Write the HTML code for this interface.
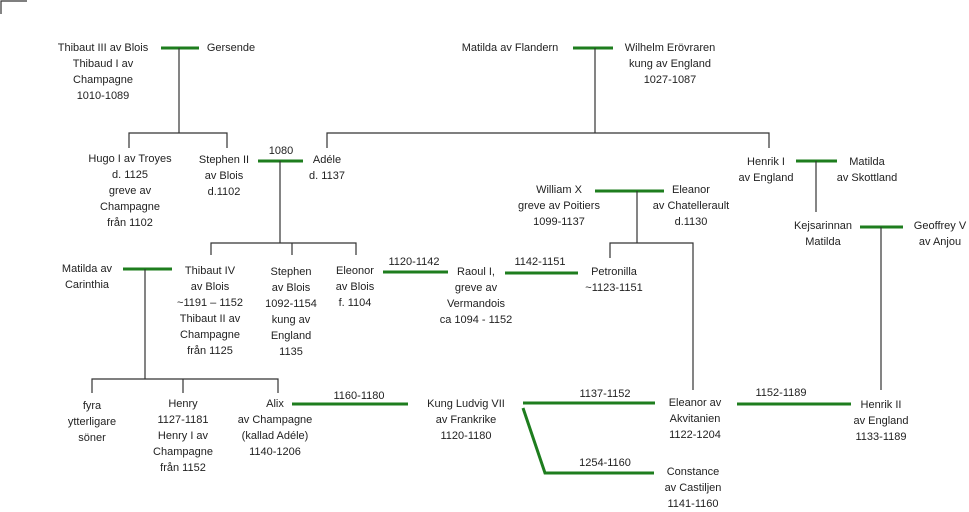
<!DOCTYPE html>
<html><head><meta charset="utf-8"><style>
html,body{margin:0;padding:0;background:#fff;}
svg{display:block;}
text{font-family:"Liberation Sans",sans-serif;font-size:11px;fill:#222;text-anchor:middle;dominant-baseline:central;}
.g{stroke:#1e7d1e;stroke-width:3;fill:none;}
.k{stroke:#333;stroke-width:1.2;fill:none;}
</style></head><body>
<svg width="969" height="512" viewBox="0 0 969 512">
<path class="k" d="M1 14V1H27"/>
<!-- top left family -->
<text x="103" y="48">Thibaut III av Blois</text><text x="103" y="64">Thibaud I av</text><text x="103" y="80">Champagne</text><text x="103" y="96">1010-1089</text>
<line class="g" x1="161" y1="48" x2="199" y2="48"/>
<text x="231" y="48">Gersende</text>
<path class="k" d="M179 48V133M129 148V133H227V148"/>
<text x="130" y="159">Hugo I av Troyes</text><text x="130" y="175">d. 1125</text><text x="130" y="191">greve av</text><text x="130" y="207">Champagne</text><text x="130" y="223">från 1102</text>
<text x="224" y="160">Stephen II</text><text x="224" y="176">av Blois</text><text x="224" y="192">d.1102</text>
<text x="281" y="151">1080</text>
<line class="g" x1="258" y1="161" x2="303" y2="161"/>
<text x="327" y="160">Adéle</text><text x="327" y="176">d. 1137</text>
<path class="k" d="M280 161V243M211 255V243H356V255M292 243V255"/>
<!-- William -->
<text x="510" y="48">Matilda av Flandern</text>
<line class="g" x1="573" y1="48" x2="613" y2="48"/>
<text x="670" y="48">Wilhelm Erövraren</text><text x="670" y="64">kung av England</text><text x="670" y="80">1027-1087</text>
<path class="k" d="M595 48V133M327 148V133H769V148"/>
<text x="766" y="162">Henrik I</text><text x="766" y="178">av England</text>
<line class="g" x1="796" y1="161" x2="837" y2="161"/>
<text x="867" y="162">Matilda</text><text x="867" y="178">av Skottland</text>
<path class="k" d="M816 161V212"/>
<text x="823" y="226">Kejsarinnan</text><text x="823" y="242">Matilda</text>
<line class="g" x1="860" y1="227" x2="903" y2="227"/>
<text x="940" y="226">Geoffrey V</text><text x="940" y="242">av Anjou</text>
<path class="k" d="M881 227V390"/>
<!-- William X -->
<text x="559" y="190">William X</text><text x="559" y="206">greve av Poitiers</text><text x="559" y="222">1099-1137</text>
<line class="g" x1="595" y1="191" x2="664" y2="191"/>
<text x="691" y="190">Eleanor</text><text x="691" y="206">av Chatellerault</text><text x="691" y="222">d.1130</text>
<path class="k" d="M637 191V243M610 258V243H693V390"/>
<!-- row 3 -->
<text x="87" y="269">Matilda av</text><text x="87" y="285">Carinthia</text>
<line class="g" x1="123" y1="269" x2="172" y2="269"/>
<path class="k" d="M145 269V379M92 393V379H278V393M183 379V393"/>
<text x="210" y="271">Thibaut IV</text><text x="210" y="287">av Blois</text><text x="210" y="303">~1191 – 1152</text><text x="210" y="319">Thibaut II av</text><text x="210" y="335">Champagne</text><text x="210" y="351">från 1125</text>
<text x="291" y="272">Stephen</text><text x="291" y="288">av Blois</text><text x="291" y="304">1092-1154</text><text x="291" y="320">kung av</text><text x="291" y="336">England</text><text x="291" y="352">1135</text>
<text x="355" y="271">Eleonor</text><text x="355" y="287">av Blois</text><text x="355" y="303">f. 1104</text>
<text x="414" y="262">1120-1142</text>
<line class="g" x1="383" y1="272" x2="448" y2="272"/>
<text x="476" y="272">Raoul I,</text><text x="476" y="288">greve av</text><text x="476" y="304">Vermandois</text><text x="476" y="320">ca 1094 - 1152</text>
<text x="540" y="262">1142-1151</text>
<line class="g" x1="505" y1="273" x2="578" y2="273"/>
<text x="614" y="272">Petronilla</text><text x="614" y="288">~1123-1151</text>
<!-- row 4 -->
<text x="92" y="406">fyra</text><text x="92" y="422">ytterligare</text><text x="92" y="438">söner</text>
<text x="183" y="404">Henry</text><text x="183" y="420">1127-1181</text><text x="183" y="436">Henry I av</text><text x="183" y="452">Champagne</text><text x="183" y="468">från 1152</text>
<text x="275" y="404">Alix</text><text x="275" y="420">av Champagne</text><text x="275" y="436">(kallad Adéle)</text><text x="275" y="452">1140-1206</text>
<text x="359" y="396">1160-1180</text>
<line class="g" x1="292" y1="404" x2="408" y2="404"/>
<text x="466" y="404">Kung Ludvig VII</text><text x="466" y="420">av Frankrike</text><text x="466" y="436">1120-1180</text>
<line class="g" x1="523" y1="403" x2="655" y2="403"/>
<path class="g" d="M523 408L545 473H654"/>
<text x="605" y="394">1137-1152</text>
<text x="605" y="463">1254-1160</text>
<text x="695" y="403">Eleanor av</text><text x="695" y="419">Akvitanien</text><text x="695" y="435">1122-1204</text>
<text x="693" y="472">Constance</text><text x="693" y="488">av Castiljen</text><text x="693" y="504">1141-1160</text>
<text x="781" y="393">1152-1189</text>
<line class="g" x1="737" y1="404" x2="851" y2="404"/>
<text x="881" y="405">Henrik II</text><text x="881" y="421">av England</text><text x="881" y="437">1133-1189</text>
</svg>
</body></html>
